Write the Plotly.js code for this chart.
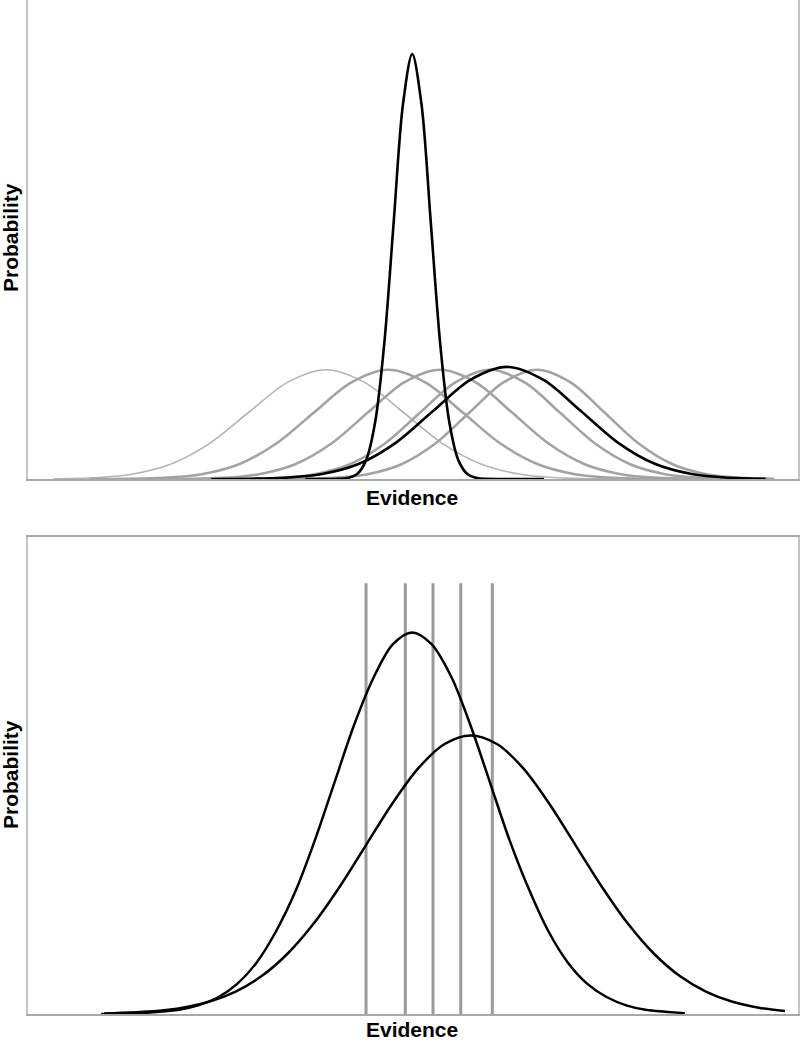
<!DOCTYPE html>
<html>
<head>
<meta charset="utf-8">
<script src="https://cdn.plot.ly/plotly-3.0.1.min.js"></script>
<style>html,body{margin:0;padding:0;background:#fff;}#chart{width:800px;height:1042px;}</style>
</head>
<body>
<div id="chart"></div>
<script>
// ---- Top panel: evidence distributions (x = evidence, y = probability) ----
const g1X = [0.335,0.84,1.345,1.85,2.355,2.86,3.365,3.87,4.375,4.88,5.385,5.89,6.395,6.9,7.405,7.91];
const g1Y = [0.0005,0.0025,0.0100,0.0308,0.0740,0.1383,0.2012,0.228,0.2012,0.1383,0.0740,0.0308,0.0100,0.0025,0.0005,0.0001];
const g2X = [0.80,1.285,1.77,2.255,2.74,3.225,3.71,4.195,4.68,5.165,5.65,6.135,6.62,7.105,7.59,8.075,8.56];
const g2Y = [0.0001,0.0005,0.0025,0.0100,0.0308,0.0740,0.1383,0.2012,0.228,0.2012,0.1383,0.0740,0.0308,0.0100,0.0025,0.0005,0.0001];
const g3X = [1.59,2.06,2.53,3.00,3.47,3.94,4.41,4.88,5.35,5.82,6.29,6.76,7.23,7.70,8.17,8.64,9.11];
const g3Y = [0.0001,0.0005,0.0025,0.0100,0.0308,0.0740,0.1383,0.2012,0.228,0.2012,0.1383,0.0740,0.0308,0.0100,0.0025,0.0005,0.0001];
const g4X = [2.36,2.815,3.27,3.725,4.18,4.635,5.09,5.545,6.0,6.455,6.91,7.365,7.82,8.275,8.73,9.185,9.64];
const g4Y = [0.0001,0.0005,0.0025,0.0100,0.0308,0.0740,0.1383,0.2012,0.228,0.2012,0.1383,0.0740,0.0308,0.0100,0.0025,0.0005,0.0001];
const g5X = [3.09,3.53,3.97,4.41,4.85,5.29,5.73,6.17,6.61,7.05,7.49,7.93,8.37,8.81,9.25,9.69];
const g5Y = [0.0001,0.0005,0.0025,0.0100,0.0308,0.0740,0.1383,0.2012,0.228,0.2012,0.1383,0.0740,0.0308,0.0100,0.0025,0.0005];
const wideX = [2.38,2.86,3.34,3.82,4.30,4.78,5.26,5.74,6.22,6.70,7.18,7.66,8.14,8.62,9.10,9.58];
const wideY = [0.0001,0.0005,0.0026,0.0103,0.0317,0.0760,0.1419,0.2065,0.234,0.2065,0.1419,0.0760,0.0317,0.0103,0.0026,0.0005];
const narrowX = [3.6,4.03,4.15,4.27,4.39,4.51,4.63,4.75,4.87,4.99,5.11,5.23,5.35,5.47,5.59,5.71,5.83,5.95,6.7];
const narrowY = [0,0.0003,0.0020,0.0098,0.0389,0.1200,0.2880,0.5380,0.7828,0.887,0.7828,0.5380,0.2880,0.1200,0.0389,0.0098,0.0020,0.0003,0];

// ---- Bottom panel: two distributions and five criteria ----
const b1X = [0.95,1.455,1.96,2.21,2.47,2.72,2.97,3.22,3.48,3.73,3.98,4.23,4.49,4.74,4.99,5.24,5.50,5.75,6.00,6.25,6.51,6.76,7.01,7.26,7.52,7.77,8.02,8.53];
const b1Y = [0.0002,0.0018,0.0089,0.0182,0.0351,0.0637,0.1082,0.1730,0.2598,0.3662,0.4852,0.6038,0.706,0.7754,0.800,0.7754,0.706,0.6038,0.4852,0.3662,0.2598,0.1730,0.1082,0.0637,0.0351,0.0182,0.0089,0.0018];
const b2X = [0.99,1.67,2.01,2.35,2.69,3.03,3.37,3.71,4.05,4.39,4.73,5.07,5.41,5.75,6.09,6.43,6.77,7.11,7.45,7.79,8.13,8.47,8.81,9.15,9.49,9.83];
const b2Y = [0.0013,0.0065,0.0133,0.0256,0.0465,0.0790,0.1263,0.1896,0.2674,0.3542,0.4408,0.5154,0.5660,0.584,0.5660,0.5154,0.4408,0.3542,0.2674,0.1896,0.1263,0.0790,0.0465,0.0256,0.0133,0.0065];
const criteriaX = [4.39,4.90,5.26,5.62,6.03];
const criteriaTop = 0.903;

const axisTitle = "Probability";
const xTitle = "Evidence";

function curve(x, y, color, width, xa, ya) {
  return {x: x, y: y, type: 'scatter', mode: 'lines', xaxis: xa, yaxis: ya,
    line: {color: color, width: width, shape: 'spline', smoothing: 0.9},
    hoverinfo: 'skip', showlegend: false};
}

const critXs = [], critYs = [];
criteriaX.forEach(v => { critXs.push(v, v, null); critYs.push(0, criteriaTop, null); });

const data = [
  curve(g1X, g1Y, '#b4b4b4', 1.6, 'x', 'y'),
  curve(g2X, g2Y, '#a3a3a3', 2.6, 'x', 'y'),
  curve(g3X, g3Y, '#a3a3a3', 2.6, 'x', 'y'),
  curve(g4X, g4Y, '#a3a3a3', 2.6, 'x', 'y'),
  curve(g5X, g5Y, '#a3a3a3', 2.6, 'x', 'y'),
  curve(wideX, wideY, '#000000', 2.6, 'x', 'y'),
  curve(narrowX, narrowY, '#000000', 2.6, 'x', 'y'),
  {x: critXs, y: critYs, type: 'scatter', mode: 'lines', xaxis: 'x2', yaxis: 'y2',
   line: {color: '#9a9a9a', width: 3}, hoverinfo: 'skip', showlegend: false},
  curve(b1X, b1Y, '#000000', 2.5, 'x2', 'y2'),
  curve(b2X, b2Y, '#000000', 2.5, 'x2', 'y2')
];

const W = 800, H = 1042;
const px = v => v / W, py = v => 1 - v / H;
const ax = {showgrid: false, zeroline: false, showticklabels: false, ticks: '', showline: true, mirror: true};
const titleFont = {family: 'Liberation Sans, Arial, sans-serif', size: 21, color: '#000'};

const layout = {
  width: W, height: H,
  margin: {l: 0, r: 0, t: 0, b: 0},
  paper_bgcolor: '#fff', plot_bgcolor: '#fff',
  xaxis: Object.assign({}, ax, {domain: [px(28), px(798)], range: [0, 10], anchor: 'y', linecolor: '#a8a8a8', linewidth: 2}),
  yaxis: Object.assign({}, ax, {domain: [py(479), 1], range: [0, 1], anchor: 'x', linecolor: '#c4c4c4', linewidth: 2}),
  xaxis2: Object.assign({}, ax, {domain: [px(28), px(798)], range: [0, 10], anchor: 'y2', linecolor: '#a8a8a8', linewidth: 2}),
  yaxis2: Object.assign({}, ax, {domain: [py(1014), py(537)], range: [0, 1], anchor: 'x2', linecolor: '#c4c4c4', linewidth: 2}),
  annotations: [
    {text: '<b>' + axisTitle + '</b>', xref: 'paper', yref: 'paper', x: px(10), y: py(238), textangle: -90, showarrow: false, xanchor: 'center', yanchor: 'middle', font: titleFont},
    {text: '<b>' + xTitle + '</b>', xref: 'paper', yref: 'paper', x: px(412), y: py(497), showarrow: false, xanchor: 'center', yanchor: 'middle', font: titleFont},
    {text: '<b>' + axisTitle + '</b>', xref: 'paper', yref: 'paper', x: px(10), y: py(775), textangle: -90, showarrow: false, xanchor: 'center', yanchor: 'middle', font: titleFont},
    {text: '<b>' + xTitle + '</b>', xref: 'paper', yref: 'paper', x: px(412), y: py(1029), showarrow: false, xanchor: 'center', yanchor: 'middle', font: titleFont}
  ]
};

Plotly.newPlot('chart', data, layout, {staticPlot: true, displayModeBar: false});
</script>
</body>
</html>
